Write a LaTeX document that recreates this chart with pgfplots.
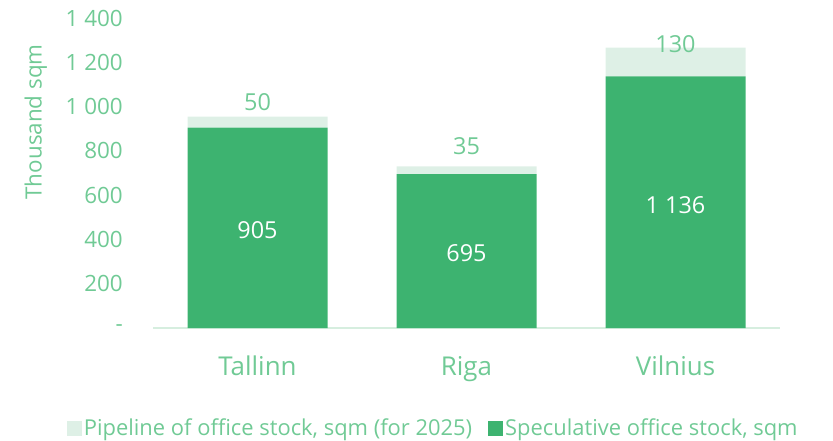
\documentclass[border=0pt]{standalone}
\usepackage{fontspec}
\setmainfont{Open Sans}
\usepackage{pgfplots}
\pgfplotsset{compat=1.18}
\definecolor{dk}{HTML}{3DB370}
\definecolor{lt}{HTML}{DEF0E6}
\definecolor{txt}{HTML}{70CA95}
\definecolor{axl}{HTML}{D6EEDF}
\begin{document}
\begin{tikzpicture}
\useasboundingbox (0,0) rectangle (833bp,441bp);
\begin{axis}[
  at={(153bp,113bp)}, anchor=south west,
  scale only axis, width=627bp, height=310bp,
  xmin=-0.5, xmax=2.5, ymin=0, ymax=1400,
  ybar stacked, bar width=140bp,
  axis lines*=left,
  y axis line style={draw=none},
  x axis line style={axl, line width=1.5bp},
  major tick length=0pt,
  xtick={0,1,2}, xticklabels={Tallinn,Riga,Vilnius},
  ytick={0,200,...,1400},
  yticklabels={{-\hspace{13bp}},200,400,600,800,1~000,1~200,1~400},
  xticklabel style={font=\fontsize{26}{30}\selectfont, text=txt, inner sep=0pt, anchor=north, yshift=-28bp},
  yticklabel style={font=\fontsize{22.5}{26}\selectfont, text=txt, inner sep=0pt, anchor=east, xshift=-30bp},
  ylabel={Thousand sqm},
  ylabel style={font=\fontsize{22.5}{26}\selectfont, text=txt, at={(axis description cs:-0.187,0.665)}, anchor=center, rotate=0},
  legend style={draw=none, fill=none, at={(axis description cs:0.447,-0.323)}, anchor=center,
    legend columns=2, font=\fontsize{22}{26}\selectfont, text=txt,
    nodes={inner sep=2bp},
    /tikz/every even column/.append style={column sep=14bp}},
  legend cell align=left,
  reverse legend,
  legend image code/.code={\fill[#1] (0bp,-7.5bp) rectangle (15bp,7.5bp);},
  clip=false,
]
\addplot+[fill=dk, draw=none, nodes near coords, point meta=explicit symbolic,
  every node near coord/.append style={text=white, anchor=center, inner sep=0pt,
    font=\fontsize{23.5}{27}\selectfont, yshift=-2.5bp}]
  coordinates {(0,905) [905] (1,695) [695] (2,1136) [1~136]};
\addlegendentry{Speculative office stock, sqm}
\addplot+[fill=lt, draw=none, nodes near coords, point meta=explicit symbolic,
  visualization depends on={rawx \as \myx},
  every node near coord/.append style={text=txt, anchor=south, inner sep=0pt,
    font=\fontsize{23.5}{27}\selectfont,
    yshift={ifthenelse(\myx==0,11.4,ifthenelse(\myx==1,15,9))*1bp}}]
  coordinates {(0,50) [50] (1,35) [35] (2,130) [130]};
\addlegendentry{Pipeline of office stock, sqm (for 2025)}
\end{axis}
\end{tikzpicture}
\end{document}
